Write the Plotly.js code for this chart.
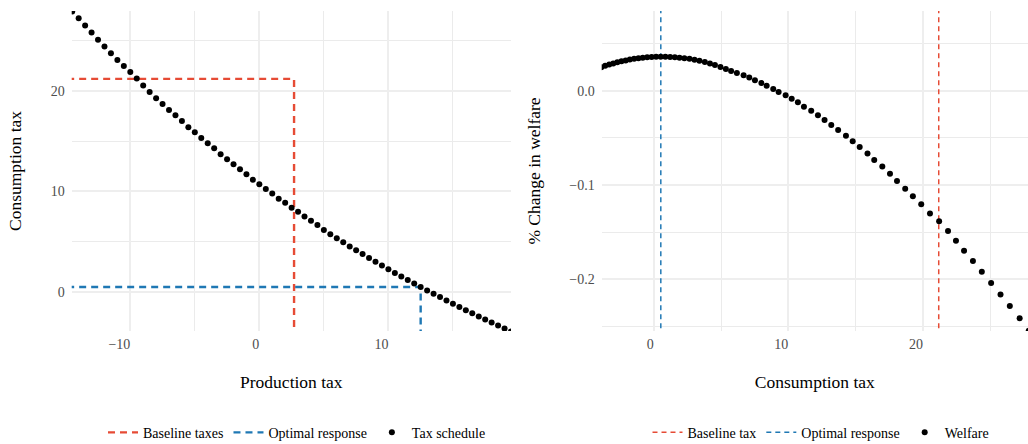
<!DOCTYPE html>
<html>
<head>
<meta charset="utf-8">
<script src="https://cdn.plot.ly/plotly-3.0.1.min.js"></script>
<style>html,body{margin:0;padding:0;background:#fff;}#chart{width:1028px;height:444px;}</style>
</head>
<body>
<div id="chart"></div>
<script>
// ---- Data ----
const productionTax = [-14.5, -14, -13.5, -13, -12.5, -12, -11.5, -11, -10.5, -10, -9.5, -9, -8.5, -8, -7.5, -7, -6.5, -6, -5.5, -5, -4.5, -4, -3.5, -3, -2.5, -2, -1.5, -1, -0.5, 0, 0.5, 1, 1.5, 2, 2.5, 3, 3.5, 4, 4.5, 5, 5.5, 6, 6.5, 7, 7.5, 8, 8.5, 9, 9.5, 10, 10.5, 11, 11.5, 12, 12.5, 13, 13.5, 14, 14.5, 15, 15.5, 16, 16.5, 17, 17.5, 18, 18.5, 19, 19.5];
const consumptionTax = [27.85, 27.18, 26.45, 25.76, 25.06, 24.37, 23.71, 23.05, 22.45, 21.86, 21.20, 20.52, 19.87, 19.25, 18.68, 18.07, 17.55, 16.98, 16.38, 15.88, 15.30, 14.78, 14.28, 13.70, 13.19, 12.69, 12.20, 11.70, 11.16, 10.71, 10.25, 9.80, 9.28, 8.88, 8.39, 8.00, 7.52, 7.10, 6.68, 6.18, 5.75, 5.36, 4.96, 4.55, 4.18, 3.80, 3.40, 3.03, 2.66, 2.28, 1.92, 1.57, 1.22, 0.87, 0.52, 0.18, -0.15, -0.48, -0.81, -1.13, -1.45, -1.77, -2.08, -2.39, -2.70, -3.00, -3.30, -3.60, -3.89];
const welfareChange = [-0.2547, -0.2416, -0.2285, -0.2162, -0.2041, -0.1921, -0.1808, -0.1698, -0.1592, -0.1489, -0.1385, -0.1302, -0.1206, -0.1121, -0.1040, -0.0958, -0.0881, -0.0803, -0.0736, -0.0665, -0.0598, -0.0537, -0.0477, -0.0417, -0.0364, -0.0311, -0.0261, -0.0212, -0.0169, -0.0123, -0.0084, -0.0049, -0.0014, 0.0018, 0.0054, 0.0082, 0.0110, 0.0139, 0.0163, 0.0188, 0.0209, 0.0230, 0.0252, 0.0272, 0.0289, 0.0305, 0.0318, 0.0329, 0.0338, 0.0345, 0.0351, 0.0356, 0.0359, 0.0361, 0.0361, 0.0360, 0.0358, 0.0355, 0.0350, 0.0345, 0.0338, 0.0330, 0.0322, 0.0312, 0.0301, 0.0290, 0.0277, 0.0264, 0.0250];
const baselineProductionTax = 2.69;
const baselineConsumptionTax = 21.17;
const optimalProductionTax = 12.5;
const optimalConsumptionTax = 0.53;
const leftLegendLabels = ['Baseline taxes', 'Optimal response', 'Tax schedule'];
const rightLegendLabels = ['Baseline tax', 'Optimal response', 'Welfare'];

// ---- Styling ----
const RED = '#E64B35', BLUE = '#1F78B4';
const FONT = 'Liberation Serif, Times New Roman, serif';
const xRange1 = [-14.54, 19.5], yRange1 = [-3.84, 27.9];
const xRange2 = [-3.86, 27.8], yRange2 = [-0.255, 0.0846];
const W = 1028;

const traces = [
  {x: [xRange1[0] - 5, baselineProductionTax, baselineProductionTax],
   y: [baselineConsumptionTax, baselineConsumptionTax, yRange1[0] - 5],
   mode: 'lines', name: leftLegendLabels[0], xaxis: 'x', yaxis: 'y', legend: 'legend',
   line: {color: RED, width: 2.4, dash: '7px,5px'}},
  {x: [xRange1[0] - 5, optimalProductionTax, optimalProductionTax],
   y: [optimalConsumptionTax, optimalConsumptionTax, yRange1[0] - 5],
   mode: 'lines', name: leftLegendLabels[1], xaxis: 'x', yaxis: 'y', legend: 'legend',
   line: {color: BLUE, width: 2.4, dash: '7px,5px'}},
  {x: productionTax, y: consumptionTax, mode: 'markers', name: leftLegendLabels[2],
   xaxis: 'x', yaxis: 'y', legend: 'legend',
   marker: {color: '#000', size: 6}},
  {x: [baselineConsumptionTax, baselineConsumptionTax], y: [yRange2[0] - 1, yRange2[1] + 1],
   mode: 'lines', name: rightLegendLabels[0], xaxis: 'x2', yaxis: 'y2', legend: 'legend2',
   line: {color: RED, width: 1.5, dash: '5px,4px'}},
  {x: [optimalConsumptionTax, optimalConsumptionTax], y: [yRange2[0] - 1, yRange2[1] + 1],
   mode: 'lines', name: rightLegendLabels[1], xaxis: 'x2', yaxis: 'y2', legend: 'legend2',
   line: {color: BLUE, width: 1.5, dash: '5px,4px'}},
  {x: consumptionTax, y: welfareChange, mode: 'markers', name: rightLegendLabels[2],
   xaxis: 'x2', yaxis: 'y2', legend: 'legend2',
   marker: {color: '#000', size: 6}}
];

const tickFont = {family: FONT, size: 14, color: '#4D4D4D'};
const titleFont = {family: FONT, size: 17.5, color: '#000'};
const grid = {showgrid: true, gridcolor: '#EEEEEE', gridwidth: 2, zeroline: false, showline: false, ticks: '', automargin: false};
const minorGrid = (d) => ({dtick: d, showgrid: true, gridcolor: '#EBEBEB', gridwidth: 1, ticks: ''});

const layout = {
  width: 1028, height: 444,
  margin: {l: 0, r: 0, t: 11, b: 113, pad: 0, autoexpand: false},
  paper_bgcolor: '#fff', plot_bgcolor: '#fff',
  font: {family: FONT, size: 14, color: '#000'},
  showlegend: true,
  xaxis: Object.assign({}, grid, {domain: [71.7 / W, 511 / W], range: xRange1, anchor: 'y',
    tick0: 0, dtick: 10, minor: minorGrid(5), tickfont: tickFont, ticklabelposition: 'outside left',
    ticklabelstandoff: 3,
    title: {text: 'Production tax', font: titleFont, standoff: 24}}),
  yaxis: Object.assign({}, grid, {domain: [0, 1], range: yRange1, anchor: 'x',
    tick0: 0, dtick: 10, minor: minorGrid(5), tickfont: tickFont, ticklabelstandoff: 6,
    title: {text: 'Consumption tax', font: titleFont, standoff: 24}}),
  xaxis2: Object.assign({}, grid, {domain: [601.7 / W, 1], range: xRange2, anchor: 'y2',
    tick0: 0, dtick: 10, minor: minorGrid(5), tickfont: tickFont, ticklabelposition: 'outside left',
    ticklabelstandoff: 3,
    title: {text: 'Consumption tax', font: titleFont, standoff: 24}}),
  yaxis2: Object.assign({}, grid, {domain: [0, 1], range: yRange2, anchor: 'x2',
    tick0: 0, dtick: 0.1, tickformat: '.1f', minor: minorGrid(0.05), tickfont: tickFont, ticklabelstandoff: 6,
    title: {text: '% Change in welfare', font: titleFont, standoff: 24}}),
  legend: {orientation: 'h', x: 297 / W, xanchor: 'center', y: -0.318, yanchor: 'middle',
    font: {family: FONT, size: 14, color: '#000'}, bgcolor: 'rgba(0,0,0,0)', traceorder: 'normal'},
  legend2: {orientation: 'h', x: 821 / W, xanchor: 'center', y: -0.318, yanchor: 'middle',
    font: {family: FONT, size: 14, color: '#000'}, bgcolor: 'rgba(0,0,0,0)', traceorder: 'normal'}
};

Plotly.newPlot('chart', traces, layout, {staticPlot: true, displayModeBar: false});
</script>
</body>
</html>
